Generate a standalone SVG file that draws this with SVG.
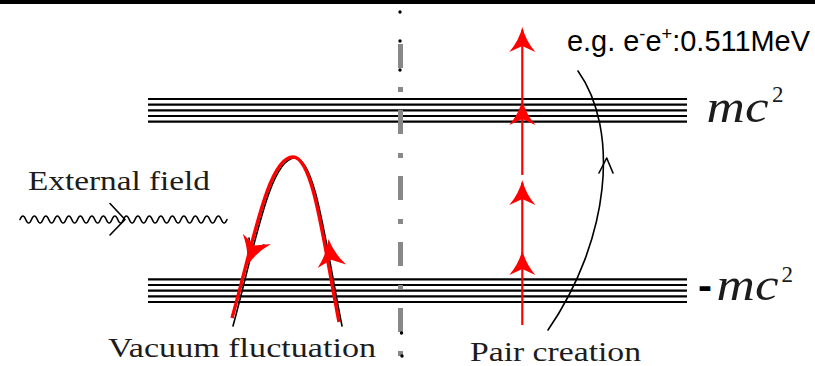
<svg xmlns="http://www.w3.org/2000/svg" width="815" height="366" viewBox="0 0 815 366">
  <style>
    .band line { stroke: #000; stroke-width: 2.2; }
    .lbl { font-family: "Liberation Serif", "Times New Roman", serif; font-size: 28px; fill: #1c1c1c; }
    .math { font-family: "Liberation Serif", "Times New Roman", serif; fill: #1c1c1c; }
    .thin { fill: none; stroke: #000; stroke-width: 1.6; stroke-linecap: round; stroke-linejoin: round; }
    .red { stroke: #ff0000; fill: none; }
    .dot { fill: #000; }
  </style>
  <defs>
    <path id="ah" d="M0,0 Q3,13 13,25 L0,19 L-13,25 Q-3,13 0,0 Z" fill="#ff0000"/>
  </defs>
  <rect x="0" y="0" width="815" height="4" fill="#000"/>

  <g id="band-top" class="band">
    <line x1="148" y1="99" x2="687" y2="99"/>
    <line x1="148" y1="104.7" x2="687" y2="104.7"/>
    <line x1="148" y1="110.4" x2="687" y2="110.4"/>
    <line x1="148" y1="116" x2="687" y2="116"/>
    <line x1="148" y1="121.7" x2="687" y2="121.7"/>
  </g>
  <g id="band-bottom" class="band">
    <line x1="148" y1="279.3" x2="687" y2="279.3"/>
    <line x1="148" y1="285" x2="687" y2="285"/>
    <line x1="148" y1="290.7" x2="687" y2="290.7"/>
    <line x1="148" y1="296.4" x2="687" y2="296.4"/>
    <line x1="148" y1="302" x2="687" y2="302"/>
  </g>

  <g id="label-mc2">
    <text class="math" x="706.5" y="121.5" font-size="47" font-style="italic" textLength="62" lengthAdjust="spacingAndGlyphs">mc</text>
    <text class="math" x="772" y="101.5" font-size="23">2</text>
  </g>
  <g id="label-neg-mc2">
    <text x="698" y="299" font-family="Liberation Sans, Arial, sans-serif" font-weight="bold" font-size="40" fill="#000" textLength="14" lengthAdjust="spacingAndGlyphs">-</text>
    <text class="math" x="716.5" y="300" font-size="47" font-style="italic" textLength="62" lengthAdjust="spacingAndGlyphs">mc</text>
    <text class="math" x="781.5" y="281.5" font-size="23">2</text>
  </g>

  <g id="external-field">
    <text class="lbl" x="28" y="190" textLength="182" lengthAdjust="spacingAndGlyphs">External field</text>
    <path class="thin" stroke-width="3.2" d="M20,219.5 q2.875,-7 5.75,0 t5.75,0 t5.75,0 t5.75,0 t5.75,0 t5.75,0 t5.75,0 t5.75,0 t5.75,0 t5.75,0 t5.75,0 t5.75,0 t5.75,0 t5.75,0 t5.75,0 t5.75,0 t5.75,0 t5.75,0 t5.75,0 t5.75,0 t5.75,0 t5.75,0 t5.75,0 t5.75,0 t5.75,0 t5.75,0 t5.75,0 t5.75,0 t5.75,0 t5.75,0 t5.75,0 t5.75,0 t5.75,0 t5.75,0 t5.75,0 t5.75,0"/>
    <path class="thin" stroke-width="2" d="M110,203.5 L125,219.5 L110,235"/>
  </g>

  <g id="vacuum-fluctuation">
    <path class="thin" stroke-width="2" d="M233,326 C255,245 270,158 295,158 C315,158 325,240 342,326"/>
    <path class="thin" stroke-width="1.4" d="M249,238 L251,252 L264,245"/>
    <path class="thin" stroke-width="1.4" d="M337,257 L331,247"/>
    <path class="red" stroke-width="3.4" d="M232,318 C253,244 268,157 293,157 C313,157 323,239 339,322"/>
    <use href="#ah" transform="translate(247,266) rotate(200) scale(1.15)"/>
    <use href="#ah" transform="translate(328.5,239) rotate(-7) scale(1.1)"/>
    <text class="lbl" x="108" y="357" textLength="268" lengthAdjust="spacingAndGlyphs">Vacuum fluctuation</text>
  </g>

  <g id="pair-creation">
    <line class="red" stroke-width="2.2" x1="522.3" y1="30" x2="522.3" y2="175"/>
    <line class="red" stroke-width="2.2" x1="522.3" y1="183" x2="522.3" y2="325"/>
    <use href="#ah" transform="translate(522.3,27)"/>
    <use href="#ah" transform="translate(522.3,100)"/>
    <use href="#ah" transform="translate(522.3,180)"/>
    <use href="#ah" transform="translate(522.3,250)"/>
    <path class="thin" d="M578,71 C620,130 610,240 548,330"/>
    <path class="thin" d="M599,173 L606.7,158 L613,173"/>
    <text class="lbl" x="470" y="361" textLength="171" lengthAdjust="spacingAndGlyphs">Pair creation</text>
  </g>

  <g id="label-energy">
    <text x="567" y="51" font-family="Liberation Sans, Arial, sans-serif" font-size="30" fill="#000" textLength="243" lengthAdjust="spacingAndGlyphs">e.g. e<tspan dy="-11" font-size="19">-</tspan><tspan dy="11">e</tspan><tspan dy="-11" font-size="19">+</tspan><tspan dy="11">:0.511MeV</tspan></text>
  </g>

  <g id="divider">
    <line x1="400.5" y1="44" x2="400.5" y2="357" stroke="#888" stroke-width="5" stroke-dasharray="24 19 5 18"/>
    <circle class="dot" cx="400" cy="12" r="1.7"/>
    <circle class="dot" cx="400" cy="41" r="1.7"/>
    <circle class="dot" cx="400" cy="70" r="1.7"/>
    <circle class="dot" cx="401.5" cy="333" r="1.7"/>
    <circle class="dot" cx="402" cy="356" r="1.7"/>
  </g>
</svg>
